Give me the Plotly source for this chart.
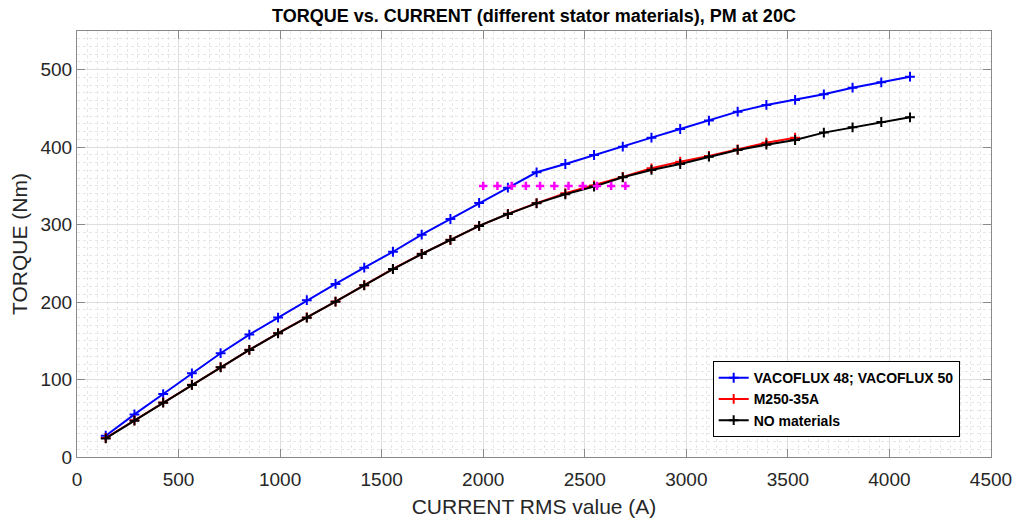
import plotly.graph_objects as go

# Current RMS values (A)
current = [141.4, 282.8, 424.3, 565.7, 707.1, 848.5, 989.9, 1131.4, 1272.8, 1414.2,
           1555.6, 1697.1, 1838.5, 1979.9, 2121.3, 2262.7, 2404.2, 2545.6, 2687.0,
           2828.4, 2969.8, 3111.3, 3252.7, 3394.1, 3535.5, 3677.0, 3818.4, 3959.8, 4101.2]

torque_vacoflux = [27.5, 55, 81.3, 108, 134, 158, 180, 202.5, 223.4, 244.4, 265, 287,
                   307.3, 328, 347.7, 367.6, 378.3, 389.9, 400.7, 412.3, 423.5, 434.3,
                   445.9, 454.5, 461, 468.3, 476.8, 483.7, 491]

current_m250 = current[:25]
torque_m250 = [24.5, 47.3, 70.4, 93.3, 116, 138.4, 159.9, 180.2, 200.7, 221.9, 242.8,
               262.3, 280.4, 298.5, 313.9, 327.8, 340.5, 350.6, 361.5, 372.7, 381.3,
               388.6, 397.2, 405.8, 412.3]

torque_none = [24, 46.9, 70.1, 93, 115.8, 138.2, 159.7, 179.9, 200.5, 221.7, 242.7,
               262.1, 280.2, 298.3, 313.7, 327.5, 339.2, 349.1, 361.1, 370.6, 378.3,
               387.8, 396.4, 403.2, 409.3, 418.8, 425.6, 432.5, 438.6]

ref_current = [2000, 2070, 2140, 2210, 2280, 2350, 2420, 2490, 2560, 2630, 2700]
ref_torque = [350] * len(ref_current)

FONT = "Liberation Sans, Arial, sans-serif"

fig = go.Figure()

fig.add_trace(go.Scatter(
    x=current, y=torque_vacoflux, mode="lines+markers", name="VACOFLUX 48; VACOFLUX 50",
    line=dict(color="#0000ff", width=2),
    marker=dict(symbol="cross-thin", size=7, line=dict(color="#0000ff", width=2)),
))
fig.add_trace(go.Scatter(
    x=current_m250, y=torque_m250, mode="lines+markers", name="M250-35A",
    line=dict(color="#ff0000", width=2),
    marker=dict(symbol="cross-thin", size=7, line=dict(color="#ff0000", width=2)),
))
fig.add_trace(go.Scatter(
    x=current, y=torque_none, mode="lines+markers", name="NO materials",
    line=dict(color="#000000", width=2),
    marker=dict(symbol="cross-thin", size=7, line=dict(color="#000000", width=2)),
))
fig.add_trace(go.Scatter(
    x=ref_current, y=ref_torque, mode="markers", showlegend=False,
    marker=dict(symbol="cross-thin", size=6, line=dict(color="#ff00ff", width=2.5)),
))

axis_common = dict(
    showline=True, linecolor="#8a8a8a", linewidth=1, mirror="ticks",
    ticks="inside", ticklen=8, tickcolor="#8a8a8a", tickwidth=1,
    showgrid=True, gridcolor="#dedede", gridwidth=1,
    zeroline=False, automargin=False,
    tickfont=dict(family=FONT, size=19, color="#262626"),
)

fig.update_xaxes(
    range=[0, 4500], dtick=500, tick0=0, ticklabelstandoff=5,
    title=dict(text="CURRENT RMS value (A)", font=dict(family=FONT, size=21, color="#262626"), standoff=10),
    minor=dict(dtick=50, showgrid=True, gridcolor="#e6e6e6", griddash="dot", gridwidth=1, ticks=""),
    **axis_common,
)
fig.update_yaxes(
    range=[0, 550], dtick=100, tick0=0,
    title=dict(text="TORQUE (Nm)", font=dict(family=FONT, size=21, color="#262626"), standoff=7),
    minor=dict(dtick=10, showgrid=True, gridcolor="#e6e6e6", griddash="dot", gridwidth=1, ticks=""),
    **axis_common,
)

fig.update_layout(
    width=1017, height=520,
    margin=dict(l=77, r=26, t=31, b=63),
    paper_bgcolor="white", plot_bgcolor="white",
    title=dict(text="<b>TORQUE vs. CURRENT (different stator materials), PM at 20C</b>",
               font=dict(family=FONT, size=18, color="#000000"),
               x=0.5 * (77 + 991) / 1017, xanchor="center", y=1 - 16 / 520, yanchor="middle"),
    legend=dict(
        x=0.6955, y=0.225, xanchor="left", yanchor="top",
        bgcolor="white", bordercolor="#000000", borderwidth=1,
        font=dict(family=FONT, size=14, color="#000000", weight="bold"),
        tracegroupgap=0, itemwidth=30,
    ),
    showlegend=True,
)

fig.write_html("out.html")
